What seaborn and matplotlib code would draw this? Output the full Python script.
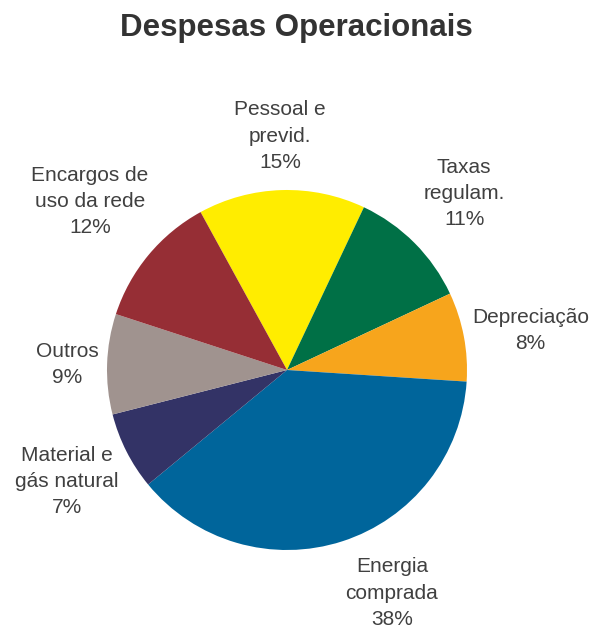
import numpy as np
import matplotlib
matplotlib.use("Agg")
import matplotlib.pyplot as plt
import seaborn as sns

sns.set_theme(style="white")
plt.rcParams['font.family'] = ['Liberation Sans', 'DejaVu Sans']

categories = ["Pessoal e\nprevid.", "Taxas\nregulam.", "Depreciação", "Energia\ncomprada",
              "Material e\ngás natural", "Outros", "Encargos de\nuso da rede"]
values = [15, 11, 8, 38, 7, 9, 12]
colors = ["#FFED00", "#007046", "#F7A51C", "#00659B", "#333366", "#A0938F", "#962E35"]
label_dist = [1.30, 1.39, 1.37, 1.37, 1.37, 1.22, 1.44]
label_turn = [0.0, 0.0, -1.5, 7.3, 0.0, 0.5, -0.8]

fig = plt.figure(figsize=(5.89, 6.30), dpi=100)
R = 180.0
k = 1.6
W, H = 589.0, 630.0
cx, cy = 287.0, 630.0 - 370.0
ax = fig.add_axes([(cx - k * R) / W, (cy - k * R) / H, 2 * k * R / W, 2 * k * R / H])
wedges, _ = ax.pie(values, colors=colors, startangle=118.7, counterclock=False,
                   wedgeprops=dict(linewidth=0))
ax.set_xlim(-k, k)
ax.set_ylim(-k, k)
ax.set_aspect('equal')
ax.axis('off')

for w, cat, v, d, t in zip(wedges, categories, values, label_dist, label_turn):
    ang = np.deg2rad((w.theta1 + w.theta2) / 2 + t)
    ax.text(d * np.cos(ang), d * np.sin(ang), f"{cat}\n{v}%", ha='center', va='center',
            fontsize=15, color='#404040', linespacing=1.48)

fig.text(0.503, 1 - 28 / 630, "Despesas Operacionais", ha='center', va='center',
         fontsize=22.5, fontweight='bold', color='#333333')

fig.savefig("out.png", dpi=100, facecolor='white')
